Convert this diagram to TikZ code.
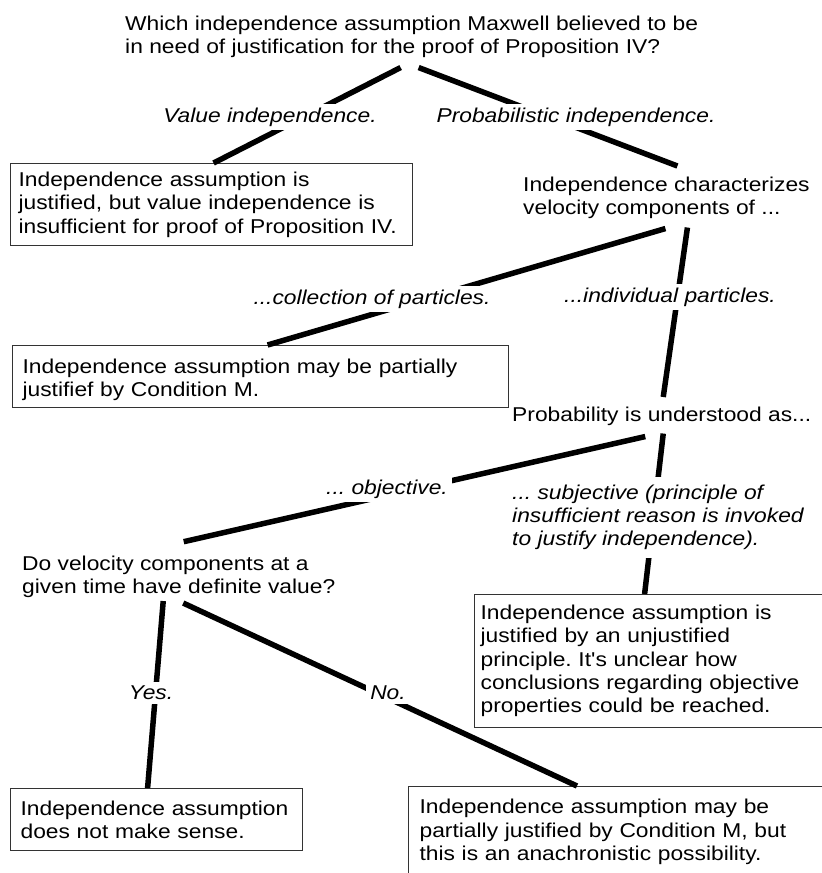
\documentclass[tikz,border=0pt]{standalone}
\usepackage{fontspec}
\newfontfamily\diagfont{Liberation Sans}[FakeStretch=1.14]
\frenchspacing
\begin{document}
\begin{tikzpicture}[x=1pt,y=-1pt,font=\diagfont\fontsize{20}{23.3}\selectfont]
\tikzstyle branch=[line width=5.5pt];
\tikzstyle answer=[draw=black!80, line width=1.2pt, anchor=north west, align=left, inner xsep=9pt, inner ysep=0pt];
\tikzstyle question=[anchor=north west, align=left, inner sep=0pt];
\tikzstyle choice=[fill=white, font=\diagfont\fontsize{20}{23.3}\selectfont\itshape, inner xsep=4pt, inner ysep=4pt];
\useasboundingbox (0,0) rectangle (822,873);
\clip (0,0) rectangle (822,873);
% questions
\node[question] (q1) at (125,15.7) {Which independence assumption Maxwell believed to be\\in need of justification for the proof of Proposition IV?};
\node[question] (charac) at (523,176.7) {Independence characterizes\\velocity components of ...};
\node[question] (prob) at (512,406.7) {Probability is understood as...};
\node[question] (dv) at (22,555.7) {Do velocity components at a\\given time have definite value?};
% answers
\node[answer, inner xsep=8pt, text width=386pt, minimum height=82pt] (box1) at (10,163) {Independence assumption is\\justified, but value independence is\\insufficient for proof of Proposition IV.};
\node[answer, inner xsep=10pt, text width=476pt, minimum height=62pt, text height=21pt] (box2) at (12,345) {Independence assumption may be partially\\justifief by Condition M.};
\node[answer, inner xsep=6pt, text width=340pt, minimum height=133pt] (box3) at (474,594) {Independence assumption is\\justified by an unjustified\\principle. It's unclear how\\conclusions regarding objective\\properties could be reached.};
\node[answer, inner xsep=10pt, text width=272pt, minimum height=62pt] (boxyes) at (10,788) {Independence assumption\\does not make sense.};
\node[answer, inner xsep=11pt, text width=398pt, minimum height=91pt] (boxno) at (408,786) {Independence assumption may be\\partially justified by Condition M, but\\this is an anachronistic possibility.};
% branches
\draw[branch] ([xshift=-11pt,yshift=-9.5pt]q1.south) -- ([xshift=2pt]box1.north);
\draw[branch] ([xshift=7pt,yshift=-9.5pt]q1.south) -- ([xshift=11pt,yshift=10.7pt]charac.north);
\draw[branch] ([xshift=-1pt,yshift=-9.5pt]charac.south) -- ([xshift=7pt]box2.north);
\draw[branch] ([xshift=21pt,yshift=-8.5pt]charac.south) -- ([xshift=1.5pt,yshift=9.7pt]prob.north);
\draw[branch] ([xshift=-16.5pt,yshift=-10.8pt]prob.south) -- ([xshift=5pt,yshift=14pt]dv.north);
\draw[branch] ([xshift=1.5pt,yshift=-7.8pt]prob.south) -- ([xshift=-6pt]box3.north);
\draw[branch] ([xshift=-15.5pt,yshift=-3pt]dv.south) -- ([xshift=-9pt]boxyes.north);
\draw[branch] ([xshift=4.5pt,yshift=-5pt]dv.south) -- ([xshift=169pt]boxno.north west);
% branch labels
\node[choice] (valind) at (270,117) {Value independence.};
\node[choice] (probind) at (576,117) {Probabilistic independence.};
\node[choice] (coll) at (372,299) {...collection of particles.};
\node[choice] (indiv) at (670,297) {...individual particles.};
\node[choice] (obj) at (387,489) {... objective.};
\node[choice, anchor=north west, align=left, inner ysep=8pt] (subj) at (508,476.4) {... subjective (principle of\\insufficient reason is invoked\\to justify independence).};
\node[choice] (yes) at (151,693) {Yes.};
\node[choice] (no) at (388,693) {No.};
\end{tikzpicture}
\end{document}
